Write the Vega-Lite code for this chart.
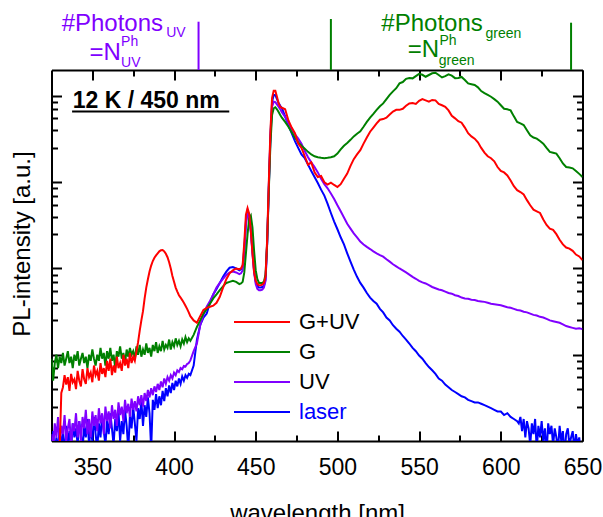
{
  "$schema": "https://vega.github.io/schema/vega-lite/v6.json",
  "width": 531,
  "height": 371,
  "autosize": {"type": "none"},
  "padding": {"left": 51.5, "top": 70, "right": 20.5, "bottom": 76},
  "background": "white",
  "datasets": {
    "main": [
      {"w":325,"laser":0.9,"UV":1.2,"G":9},
      {"w":326,"laser":1.3,"UV":0.8,"G":5},
      {"w":327,"laser":0.7,"UV":1.6,"G":8},
      {"w":328,"laser":1.1,"UV":1.1,"G":10},
      {"w":329,"laser":0.8,"UV":1.9,"G":7},
      {"w":330,"laser":1.4,"UV":0.9,"G":9.5,"G+UV":0.8},
      {"w":331,"laser":0.9,"UV":1.5,"G":8,"G+UV":3.6},
      {"w":332,"laser":1.2,"UV":1.2,"G":10.5,"G+UV":4.2},
      {"w":333,"laser":0.7,"UV":2.0,"G":7.5,"G+UV":5.8},
      {"w":334,"laser":1.5,"UV":1.0,"G":9,"G+UV":4.5},
      {"w":335,"laser":1.0,"UV":1.4,"G":11,"G+UV":5.5},
      {"w":336,"laser":1.3,"UV":1.8,"G":8,"G+UV":3.8},
      {"w":337,"laser":0.8,"UV":0.9,"G":9.5,"G+UV":6},
      {"w":338,"laser":1.6,"UV":1.6,"G":7,"G+UV":4.8},
      {"w":339,"laser":1.1,"UV":1.3,"G":10,"G+UV":5.2},
      {"w":340,"laser":1.4,"UV":2.1,"G":8.5,"G+UV":4},
      {"w":341,"laser":0.9,"UV":1.1,"G":11,"G+UV":6.5},
      {"w":342,"laser":1.7,"UV":1.7,"G":7.5,"G+UV":5},
      {"w":343,"laser":1.2,"UV":1.0,"G":9,"G+UV":4.3},
      {"w":344,"laser":0.8,"UV":1.9,"G":10.5,"G+UV":6.8},
      {"w":345,"laser":1.5,"UV":1.4,"G":8,"G+UV":5.2},
      {"w":346,"laser":1.1,"UV":2.3,"G":9.5,"G+UV":4.6},
      {"w":347,"laser":1.8,"UV":1.2,"G":7,"G+UV":7},
      {"w":348,"laser":0.9,"UV":1.8,"G":10,"G+UV":5.5},
      {"w":349,"laser":1.4,"UV":1.1,"G":8.5,"G+UV":6.2},
      {"w":350,"laser":1.0,"UV":2.2,"G":11.5,"G+UV":4.8},
      {"w":351,"laser":1.9,"UV":1.5,"G":9,"G+UV":7.5},
      {"w":352,"laser":1.2,"UV":2.0,"G":7.5,"G+UV":5.8},
      {"w":353,"laser":0.8,"UV":1.3,"G":10,"G+UV":6.5},
      {"w":354,"laser":1.6,"UV":2.4,"G":8.5,"G+UV":5},
      {"w":355,"laser":1.1,"UV":1.6,"G":12,"G+UV":8},
      {"w":356,"laser":2.0,"UV":2.1,"G":9,"G+UV":6},
      {"w":357,"laser":1.3,"UV":1.2,"G":10.5,"G+UV":7},
      {"w":358,"laser":0.9,"UV":2.5,"G":7.5,"G+UV":5.5},
      {"w":359,"laser":1.7,"UV":1.7,"G":11,"G+UV":8.5},
      {"w":360,"laser":1.2,"UV":2.2,"G":9,"G+UV":6.5},
      {"w":361,"laser":2.1,"UV":1.4,"G":12,"G+UV":9},
      {"w":362,"laser":1.4,"UV":2.6,"G":8.5,"G+UV":5.8},
      {"w":363,"laser":0.9,"UV":1.8,"G":10,"G+UV":7.5},
      {"w":364,"laser":1.8,"UV":2.3,"G":7,"G+UV":6.2},
      {"w":365,"laser":1.3,"UV":1.5,"G":11,"G+UV":9.5},
      {"w":366,"laser":2.2,"UV":2.8,"G":9.5,"G+UV":7},
      {"w":367,"laser":1.0,"UV":2.0,"G":12.5,"G+UV":8},
      {"w":368,"laser":1.7,"UV":2.5,"G":9,"G+UV":6.5},
      {"w":369,"laser":1.2,"UV":1.7,"G":10.5,"G+UV":10},
      {"w":370,"laser":2.3,"UV":3.0,"G":8,"G+UV":7.5},
      {"w":371,"laser":1.5,"UV":2.1,"G":11.5,"G+UV":9},
      {"w":372,"laser":0.8,"UV":2.7,"G":9.5,"G+UV":7},
      {"w":373,"laser":2.0,"UV":1.9,"G":12,"G+UV":10.5},
      {"w":374,"laser":1.4,"UV":3.1,"G":10,"G+UV":8},
      {"w":375,"laser":2.5,"UV":2.3,"G":11,"G+UV":9.5},
      {"w":376,"laser":1.6,"UV":2.9,"G":9,"G+UV":8.5},
      {"w":377,"laser":1.0,"UV":2.2,"G":12.5,"G+UV":11},
      {"w":378,"laser":2.4,"UV":3.3,"G":10,"G+UV":14},
      {"w":379,"laser":1.8,"UV":2.6,"G":13,"G+UV":19},
      {"w":380,"laser":2.9,"UV":3.4,"G":9.5,"G+UV":25},
      {"w":381,"laser":1.5,"UV":2.5,"G":11.5,"G+UV":32},
      {"w":382,"laser":2.6,"UV":3.6,"G":10,"G+UV":45},
      {"w":383,"laser":1.9,"UV":2.9,"G":13.5,"G+UV":60},
      {"w":384,"laser":3.2,"UV":3.9,"G":10.5,"G+UV":75},
      {"w":385,"laser":2.1,"UV":3.2,"G":12,"G+UV":92},
      {"w":386,"laser":0.8,"UV":4.1,"G":9.5,"G+UV":108},
      {"w":387,"laser":3.0,"UV":3.4,"G":13,"G+UV":122},
      {"w":388,"laser":2.3,"UV":4.3,"G":11,"G+UV":133},
      {"w":389,"laser":3.5,"UV":3.7,"G":14,"G+UV":142},
      {"w":390,"laser":2.4,"UV":4.6,"G":10.5,"G+UV":150},
      {"w":391,"laser":3.3,"UV":3.9,"G":12.5,"G+UV":158},
      {"w":392,"laser":2.6,"UV":4.9,"G":11,"G+UV":163},
      {"w":393,"laser":3.8,"UV":4.2,"G":14.5,"G+UV":164},
      {"w":394,"laser":2.9,"UV":5.3,"G":11.5,"G+UV":158},
      {"w":395,"laser":4.1,"UV":4.6,"G":13,"G+UV":148},
      {"w":396,"laser":3.3,"UV":5.5,"G":12,"G+UV":135},
      {"w":397,"laser":4.4,"UV":5.0,"G":15,"G+UV":118},
      {"w":398,"laser":3.6,"UV":5.8,"G":11.5,"G+UV":100},
      {"w":399,"laser":4.7,"UV":5.3,"G":14,"G+UV":82},
      {"w":400,"laser":3.9,"UV":6.2,"G":12.5,"G+UV":70},
      {"w":401,"laser":5.0,"UV":5.8,"G":15.5,"G+UV":60},
      {"w":402,"laser":4.3,"UV":6.6,"G":13,"G+UV":54},
      {"w":403,"laser":5.3,"UV":6.3,"G":14.5,"G+UV":49},
      {"w":404,"laser":4.6,"UV":7.0,"G":12.5,"G+UV":46},
      {"w":405,"laser":5.6,"UV":6.8,"G":15,"G+UV":43},
      {"w":406,"laser":5.0,"UV":7.4,"G":13.5,"G+UV":40},
      {"w":407,"laser":5.8,"UV":7.3,"G":16,"G+UV":37},
      {"w":408,"laser":5.4,"UV":7.8,"G":14,"G+UV":34},
      {"w":409,"laser":6.0,"UV":8.0,"G":15.5,"G+UV":31},
      {"w":410,"laser":5.8,"UV":8.6,"G":14.5,"G+UV":28},
      {"w":412,"laser":7.5,"UV":11,"G":17,"G+UV":25},
      {"w":414,"laser":15,"UV":13.5,"G":21,"G+UV":23.5},
      {"w":416,"laser":22,"UV":22,"G":25,"G+UV":28},
      {"w":418,"laser":27,"UV":29,"G":30,"G+UV":33},
      {"w":420,"laser":30,"UV":36,"G":34,"G+UV":35},
      {"w":422,"laser":40,"UV":42,"G":39,"G+UV":36},
      {"w":424,"laser":50,"UV":50,"G":45,"G+UV":37},
      {"w":426,"laser":58,"UV":60,"G":50,"G+UV":40},
      {"w":428,"laser":68,"UV":68,"G":56,"G+UV":47},
      {"w":430,"laser":80,"UV":76,"G":62,"G+UV":60},
      {"w":432,"laser":92,"UV":84,"G":68,"G+UV":75},
      {"w":434,"laser":102,"UV":90,"G":70,"G+UV":88},
      {"w":436,"laser":104,"UV":92,"G":72,"G+UV":95},
      {"w":438,"laser":100,"UV":90,"G":70,"G+UV":100},
      {"w":440,"laser":95,"UV":86,"G":66,"G+UV":98},
      {"w":441,"laser":98,"UV":88,"G":67,"G+UV":100},
      {"w":442,"laser":105,"UV":95,"G":70,"G+UV":110},
      {"w":443,"laser":170,"UV":150,"G":90,"G+UV":200},
      {"w":444,"laser":350,"UV":320,"G":150,"G+UV":420},
      {"w":445,"laser":470,"UV":440,"G":250,"G+UV":500},
      {"w":446,"laser":420,"UV":400,"G":380,"G+UV":430},
      {"w":447,"laser":280,"UV":270,"G":410,"G+UV":270},
      {"w":448,"laser":160,"UV":150,"G":300,"G+UV":150},
      {"w":449,"laser":95,"UV":90,"G":160,"G+UV":90},
      {"w":450,"laser":70,"UV":66,"G":95,"G+UV":72},
      {"w":451,"laser":62,"UV":58,"G":75,"G+UV":66},
      {"w":452,"laser":60,"UV":56,"G":68,"G+UV":64},
      {"w":453,"laser":60,"UV":56,"G":68,"G+UV":64},
      {"w":454,"laser":61,"UV":57,"G":68,"G+UV":65},
      {"w":455,"laser":63,"UV":60,"G":70,"G+UV":68},
      {"w":456,"laser":75,"UV":72,"G":85,"G+UV":80},
      {"w":457,"laser":200,"UV":190,"G":200,"G+UV":220},
      {"w":458,"laser":900,"UV":850,"G":800,"G+UV":1000},
      {"w":459,"laser":3500,"UV":3200,"G":2800,"G+UV":4000},
      {"w":460,"laser":8500,"UV":7500,"G":6000,"G+UV":9500},
      {"w":461,"laser":10300,"UV":8600,"G":7200,"G+UV":11500},
      {"w":462,"laser":10200,"UV":8500,"G":7400,"G+UV":11500},
      {"w":463,"laser":9200,"UV":8000,"G":7000,"G+UV":9800},
      {"w":464,"laser":8300,"UV":7500,"G":6500,"G+UV":8200},
      {"w":465,"laser":7700,"UV":7000,"G":6000,"G+UV":7500},
      {"w":466,"laser":7200,"UV":6500,"G":5600,"G+UV":7300},
      {"w":468,"laser":5800,"UV":5700,"G":5000,"G+UV":7000},
      {"w":470,"laser":4600,"UV":4800,"G":4400,"G+UV":5200},
      {"w":472,"laser":3700,"UV":4100,"G":3800,"G+UV":4300},
      {"w":474,"laser":3000,"UV":3600,"G":3300,"G+UV":3700},
      {"w":476,"laser":2500,"UV":3200,"G":2900,"G+UV":2800},
      {"w":478,"laser":2100,"UV":2800,"G":2650,"G+UV":2500},
      {"w":480,"laser":1900,"UV":2300,"G":2450,"G+UV":2000},
      {"w":482,"laser":1600,"UV":1950,"G":2250,"G+UV":1600},
      {"w":484,"laser":1350,"UV":1700,"G":2100,"G+UV":1700},
      {"w":486,"laser":1150,"UV":1500,"G":2000,"G+UV":1300},
      {"w":488,"laser":980,"UV":1300,"G":1950,"G+UV":1150},
      {"w":490,"laser":820,"UV":1100,"G":1920,"G+UV":1180},
      {"w":492,"laser":700,"UV":950,"G":1900,"G+UV":1000},
      {"w":494,"laser":560,"UV":850,"G":1920,"G+UV":940},
      {"w":496,"laser":440,"UV":740,"G":1950,"G+UV":990},
      {"w":498,"laser":350,"UV":640,"G":2000,"G+UV":930},
      {"w":500,"laser":285,"UV":540,"G":2150,"G+UV":880},
      {"w":502,"laser":230,"UV":460,"G":2400,"G+UV":950},
      {"w":504,"laser":190,"UV":390,"G":2650,"G+UV":1100},
      {"w":506,"laser":150,"UV":330,"G":2850,"G+UV":1260},
      {"w":508,"laser":120,"UV":290,"G":3100,"G+UV":1550},
      {"w":510,"laser":97,"UV":255,"G":3400,"G+UV":1850},
      {"w":512,"laser":80,"UV":230,"G":3650,"G+UV":2100},
      {"w":514,"laser":68,"UV":205,"G":3900,"G+UV":2350},
      {"w":516,"laser":60,"UV":190,"G":4400,"G+UV":2800},
      {"w":518,"laser":52,"UV":178,"G":5000,"G+UV":3300},
      {"w":520,"laser":46,"UV":168,"G":5600,"G+UV":3850},
      {"w":522,"laser":42,"UV":158,"G":6200,"G+UV":4300},
      {"w":524,"laser":39,"UV":150,"G":6900,"G+UV":4800},
      {"w":526,"laser":34,"UV":143,"G":7600,"G+UV":5300},
      {"w":528,"laser":31,"UV":137,"G":8200,"G+UV":5400},
      {"w":530,"laser":27,"UV":128,"G":9200,"G+UV":5600},
      {"w":532,"laser":25,"UV":120,"G":10300,"G+UV":6100},
      {"w":534,"laser":22,"UV":112,"G":11300,"G+UV":6600},
      {"w":536,"laser":20,"UV":106,"G":12300,"G+UV":6900},
      {"w":538,"laser":18.5,"UV":100,"G":14000,"G+UV":6900},
      {"w":540,"laser":16.5,"UV":95,"G":14500,"G+UV":7100},
      {"w":542,"laser":15,"UV":90,"G":15800,"G+UV":7700},
      {"w":544,"laser":13.5,"UV":85,"G":16100,"G+UV":8200},
      {"w":546,"laser":12,"UV":80,"G":16000,"G+UV":8300},
      {"w":548,"laser":11,"UV":76,"G":17000,"G+UV":8100},
      {"w":550,"laser":9.8,"UV":72,"G":18000,"G+UV":8800},
      {"w":552,"laser":9,"UV":69,"G":17600,"G+UV":9200},
      {"w":554,"laser":8,"UV":67,"G":16700,"G+UV":8900},
      {"w":556,"laser":7.2,"UV":64,"G":17500,"G+UV":8600},
      {"w":558,"laser":6.6,"UV":61,"G":18300,"G+UV":9000},
      {"w":560,"laser":6.0,"UV":59,"G":18600,"G+UV":8900},
      {"w":562,"laser":5.3,"UV":57,"G":17500,"G+UV":8100},
      {"w":564,"laser":5.0,"UV":56,"G":16400,"G+UV":7800},
      {"w":566,"laser":4.5,"UV":54,"G":17000,"G+UV":7500},
      {"w":568,"laser":4.2,"UV":52,"G":17800,"G+UV":6800},
      {"w":570,"laser":3.9,"UV":51,"G":17200,"G+UV":5900},
      {"w":572,"laser":3.7,"UV":49,"G":16100,"G+UV":5500},
      {"w":574,"laser":3.5,"UV":48,"G":16200,"G+UV":5100},
      {"w":576,"laser":3.3,"UV":46,"G":16600,"G+UV":4900},
      {"w":578,"laser":3.2,"UV":45,"G":15300,"G+UV":4300},
      {"w":580,"laser":3.0,"UV":44.5,"G":14000,"G+UV":3700},
      {"w":582,"laser":2.9,"UV":43.5,"G":13700,"G+UV":3400},
      {"w":584,"laser":2.8,"UV":43,"G":13400,"G+UV":3200},
      {"w":586,"laser":2.8,"UV":42,"G":12600,"G+UV":2900},
      {"w":588,"laser":2.7,"UV":41.5,"G":11400,"G+UV":2500},
      {"w":590,"laser":2.6,"UV":41,"G":10800,"G+UV":2200},
      {"w":592,"laser":2.5,"UV":40,"G":10300,"G+UV":2000},
      {"w":594,"laser":2.4,"UV":39,"G":9800,"G+UV":1900},
      {"w":596,"laser":2.3,"UV":38.5,"G":9200,"G+UV":1750},
      {"w":598,"laser":2.2,"UV":38,"G":8600,"G+UV":1500},
      {"w":600,"laser":2.2,"UV":37.5,"G":7800,"G+UV":1350},
      {"w":602,"laser":2.0,"UV":36.5,"G":7100,"G+UV":1300},
      {"w":604,"laser":2.1,"UV":35.5,"G":7000,"G+UV":1200},
      {"w":606,"laser":1.9,"UV":35,"G":6800,"G+UV":1050},
      {"w":608,"laser":1.8,"UV":34,"G":5800,"G+UV":900},
      {"w":610,"laser":1.7,"UV":33,"G":5000,"G+UV":810},
      {"w":611,"laser":1.6},
      {"w":612,"laser":1.9,"UV":32.5,"G":4800,"G+UV":770},
      {"w":613,"laser":1.3},
      {"w":614,"laser":1.8,"UV":31.5,"G":4600,"G+UV":720},
      {"w":615,"laser":1.1},
      {"w":616,"laser":1.7,"UV":31,"G":4000,"G+UV":620},
      {"w":617,"laser":1.4},
      {"w":618,"laser":0.9,"UV":30,"G":3500,"G+UV":540},
      {"w":619,"laser":1.6},
      {"w":620,"laser":1.2,"UV":29,"G":3300,"G+UV":480},
      {"w":621,"laser":1.8},
      {"w":622,"laser":0.8,"UV":28.5,"G":3200,"G+UV":460},
      {"w":623,"laser":1.5},
      {"w":624,"laser":1.1,"UV":27.5,"G":3000,"G+UV":440},
      {"w":625,"laser":1.7},
      {"w":626,"laser":1.0,"UV":27,"G":2800,"G+UV":370},
      {"w":627,"laser":1.4},
      {"w":628,"laser":0.7,"UV":26,"G":2500,"G+UV":320},
      {"w":629,"laser":1.6},
      {"w":630,"laser":1.2,"UV":25,"G":2250,"G+UV":290},
      {"w":631,"laser":1.5},
      {"w":632,"laser":0.9,"UV":24.5,"G":2200,"G+UV":280},
      {"w":633,"laser":1.4},
      {"w":634,"laser":1.1,"UV":24,"G":2150,"G+UV":250},
      {"w":635,"laser":0.8},
      {"w":636,"laser":1.5,"UV":23.5,"G":1900,"G+UV":215},
      {"w":637,"laser":1.0},
      {"w":638,"laser":1.3,"UV":22.5,"G":1650,"G+UV":190},
      {"w":639,"laser":0.7},
      {"w":640,"laser":1.2,"UV":21.5,"G":1500,"G+UV":175},
      {"w":641,"laser":1.4},
      {"w":642,"laser":0.9,"UV":21,"G":1480,"G+UV":170},
      {"w":643,"laser":1.1},
      {"w":644,"laser":1.3,"UV":20.5,"G":1450,"G+UV":160},
      {"w":645,"laser":0.8},
      {"w":646,"laser":1.2,"UV":20,"G":1350,"G+UV":145},
      {"w":647,"laser":0.9},
      {"w":648,"laser":1.1,"UV":20.3,"G":1250,"G+UV":138},
      {"w":649,"laser":0.7},
      {"w":650,"laser":1.0,"UV":19.8,"G":1150,"G+UV":125}
    ],
    "rules": [
      {"x":415,"y":20000,"y2":72600,"s":"UV"},
      {"x":496,"y":20000,"y2":78000,"s":"G"},
      {"x":643,"y":20000,"y2":70700,"s":"G"}
    ],
    "big": [
      {"t":"#Photons","x":331.2,"y":57100,"s":"UV"},
      {"t":"=N","x":348.2,"y":26100,"s":"UV"},
      {"t":"#Photons","x":526.9,"y":57100,"s":"G"},
      {"t":"=N","x":543.0,"y":28600,"s":"G"}
    ],
    "small": [
      {"t":"UV","x":395.2,"y":47900,"s":"UV"},
      {"t":"Ph","x":367.6,"y":37900,"s":"UV"},
      {"t":"UV","x":367.6,"y":21800,"s":"UV"},
      {"t":"green","x":590.6,"y":47400,"s":"G"},
      {"t":"Ph","x":562.4,"y":39000,"s":"G"},
      {"t":"green","x":562.0,"y":22900,"s":"G"}
    ],
    "label": [
      {"t":"12 K / 450 nm","x":338,"y":7195}
    ],
    "uline": [
      {"x":337.6,"x2":433.8,"y":6600}
    ]
  },
  "layer": [
    {
      "data": {"name": "main"},
      "transform": [
        {"fold": ["laser", "UV", "G", "G+UV"], "as": ["series", "v"]},
        {"filter": "isValid(datum.v)"}
      ],
      "mark": {"type": "line", "strokeWidth": 2, "clip": true},
      "encoding": {
        "x": {
          "field": "w", "type": "quantitative",
          "scale": {"domain": [325, 650], "nice": false, "zero": false},
          "axis": {
            "orient": "bottom", "values": [350, 400, 450, 500, 550, 600, 650],
            "tickSize": -10, "labelPadding": 43, "labelBaseline": "alphabetic",
            "labelFontSize": 23, "title": "wavelength [nm]", "titleFontSize": 24,
            "titleY": 79.5, "titleBaseline": "alphabetic", "domain": true
          }
        },
        "y": {
          "field": "v", "type": "quantitative",
          "scale": {"type": "log", "domain": [1, 20000], "nice": false},
          "axis": {
            "orient": "left", "values": [10, 100, 1000, 10000],
            "tickSize": -10, "labels": false,
            "title": "PL-intensity [a.u.]", "titleFontSize": 24,
            "titleX": -22.5, "titleY": 173.5, "titleBaseline": "alphabetic",
            "titleAngle": 270, "titleAlign": "center", "domain": true
          }
        },
        "color": {
          "field": "series", "type": "nominal",
          "scale": {"domain": ["G+UV", "G", "UV", "laser"], "range": ["#FF0000", "#008000", "#8000FF", "#0000FF"]},
          "legend": {
            "orient": "none", "legendX": 181.5, "legendY": 237, "title": null,
            "symbolType": "stroke", "symbolSize": 3136, "symbolStrokeWidth": 2,
            "labelFontSize": 22, "labelOffset": 8, "clipHeight": 30,
            "rowPadding": 0, "padding": 0, "labelColor": "black",
            "labelLimit": 200,
            "encode": {"labels": {"update": {"fill": {"signal": "datum.label === 'laser' ? '#0000FF' : 'black'"}}}}
          }
        },
        "detail": {"field": "series"}
      }
    },
    {
      "data": {"name": "rules"},
      "mark": {"type": "rule", "strokeWidth": 2},
      "encoding": {
        "x": {
          "field": "x", "type": "quantitative",
          "scale": {"domain": [325, 650], "nice": false, "zero": false},
          "axis": {"orient": "top", "values": [350, 400, 450, 500, 550, 600, 650], "tickSize": -10, "labels": false, "title": null, "domain": true}
        },
        "y": {
          "field": "y", "type": "quantitative",
          "scale": {"type": "log", "domain": [1, 20000], "nice": false},
          "axis": {"orient": "right", "values": [10, 100, 1000, 10000], "tickSize": -10, "labels": false, "title": null, "domain": true}
        },
        "y2": {"field": "y2"},
        "color": {"field": "s", "type": "nominal", "legend": null}
      }
    },
    {
      "data": {"name": "big"},
      "mark": {"type": "text", "align": "left", "baseline": "alphabetic", "fontSize": 24},
      "encoding": {
        "x": {
          "field": "x", "type": "quantitative",
          "scale": {"domain": [325, 650], "nice": false, "zero": false},
          "axis": {"orient": "bottom", "values": [375, 425, 475, 525, 575, 625], "tickSize": -6, "labels": false, "title": null, "domain": false}
        },
        "y": {
          "field": "y", "type": "quantitative",
          "scale": {"type": "log", "domain": [1, 20000], "nice": false},
          "axis": {"orient": "left", "values": [2.5, 4, 5.5, 7, 8.5, 25, 40, 55, 70, 85, 250, 400, 550, 700, 850, 2500, 4000, 5500, 7000, 8500], "tickSize": -6, "labels": false, "title": null, "domain": false}
        },
        "text": {"field": "t"},
        "color": {"field": "s", "type": "nominal", "legend": null}
      }
    },
    {
      "data": {"name": "small"},
      "mark": {"type": "text", "align": "left", "baseline": "alphabetic", "fontSize": 14},
      "encoding": {
        "x": {
          "field": "x", "type": "quantitative",
          "scale": {"domain": [325, 650], "nice": false, "zero": false},
          "axis": {"orient": "top", "values": [375, 425, 475, 525, 575, 625], "tickSize": -6, "labels": false, "title": null, "domain": false}
        },
        "y": {
          "field": "y", "type": "quantitative",
          "scale": {"type": "log", "domain": [1, 20000], "nice": false},
          "axis": {"orient": "right", "values": [2.5, 4, 5.5, 7, 8.5, 25, 40, 55, 70, 85, 250, 400, 550, 700, 850, 2500, 4000, 5500, 7000, 8500], "tickSize": -6, "labels": false, "title": null, "domain": false}
        },
        "text": {"field": "t"},
        "color": {"field": "s", "type": "nominal", "legend": null}
      }
    },
    {
      "data": {"name": "label"},
      "mark": {"type": "text", "align": "left", "baseline": "alphabetic", "fontSize": 23, "fontWeight": "bold", "color": "black"},
      "encoding": {
        "x": {"field": "x", "type": "quantitative", "axis": null},
        "y": {"field": "y", "type": "quantitative", "axis": null},
        "text": {"field": "t"}
      }
    },
    {
      "data": {"name": "uline"},
      "mark": {"type": "rule", "strokeWidth": 2, "color": "black"},
      "encoding": {
        "x": {"field": "x", "type": "quantitative", "axis": null},
        "x2": {"field": "x2"},
        "y": {"field": "y", "type": "quantitative", "axis": null}
      }
    }
  ],
  "resolve": {"axis": {"x": "independent", "y": "independent"}},
  "config": {
    "font": "Liberation Sans",
    "view": {"stroke": null},
    "axis": {
      "domainColor": "black", "domainWidth": 2, "tickColor": "black", "tickWidth": 2,
      "grid": false, "labelColor": "black", "titleColor": "black",
      "titleFontWeight": "normal", "labelFlush": false, "labelOverlap": false
    }
  }
}
